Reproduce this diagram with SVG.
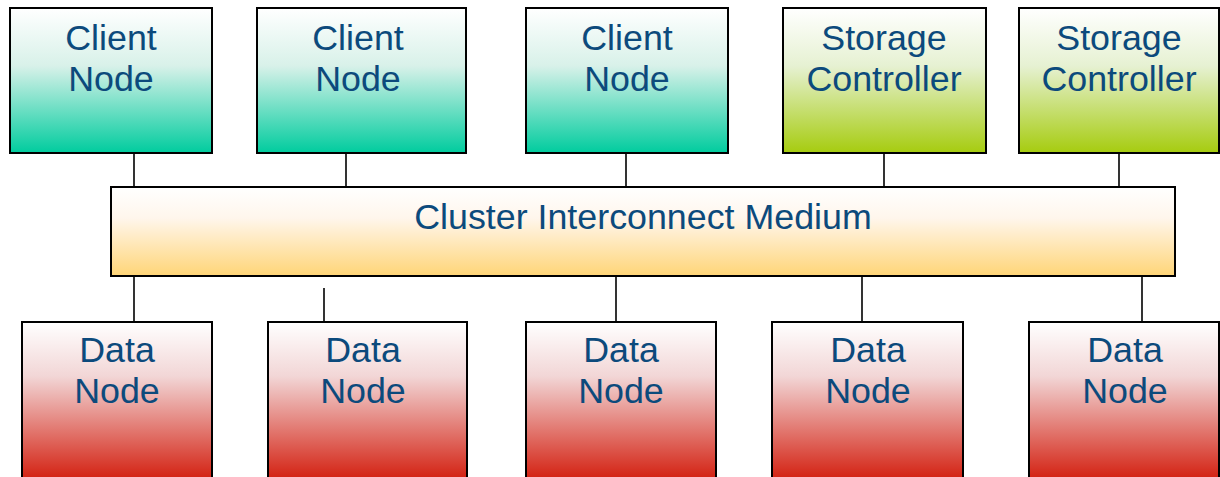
<svg xmlns="http://www.w3.org/2000/svg" width="1220" height="477" viewBox="0 0 1220 477">
<defs>
<linearGradient id="gClient" x1="0" y1="0" x2="0" y2="1">
<stop offset="0" stop-color="#ffffff"/>
<stop offset="0.4" stop-color="#d8f1e9"/>
<stop offset="1" stop-color="#00cc9e"/>
</linearGradient>
<linearGradient id="gStorage" x1="0" y1="0" x2="0" y2="1">
<stop offset="0" stop-color="#ffffff"/>
<stop offset="0.4" stop-color="#e6f1d2"/>
<stop offset="1" stop-color="#a6cc0f"/>
</linearGradient>
<linearGradient id="gBar" x1="0" y1="0" x2="0" y2="1">
<stop offset="0" stop-color="#ffffff"/>
<stop offset="0.35" stop-color="#fff6ec"/>
<stop offset="1" stop-color="#ffd577"/>
</linearGradient>
<linearGradient id="gData" gradientUnits="userSpaceOnUse" x1="0" y1="322" x2="0" y2="477">
<stop offset="0" stop-color="#ffffff"/>
<stop offset="0.35" stop-color="#f2d6d6"/>
<stop offset="1" stop-color="#d42516"/>
</linearGradient>
</defs>
<style>
.box{stroke:#000;stroke-width:2}
.client{fill:url(#gClient)}
.storage{fill:url(#gStorage)}
.bar{fill:url(#gBar)}
.data{fill:url(#gData)}
.lbl{font-family:"Liberation Sans",Arial,sans-serif;font-size:35.8px;fill:#0c4a7c;text-anchor:middle}
.conn{stroke:#000;stroke-width:1.6;fill:none}
</style>
<rect width="1220" height="477" fill="#ffffff"/>
<g id="connectors">
<line class="conn" x1="134" y1="154" x2="134" y2="187"/>
<line class="conn" x1="346" y1="154" x2="346" y2="187"/>
<line class="conn" x1="626" y1="154" x2="626" y2="187"/>
<line class="conn" x1="884" y1="154" x2="884" y2="187"/>
<line class="conn" x1="1119" y1="154" x2="1119" y2="187"/>
<line class="conn" x1="134" y1="277" x2="134" y2="322"/>
<line class="conn" x1="324" y1="288" x2="324" y2="322"/>
<line class="conn" x1="616" y1="277" x2="616" y2="322"/>
<line class="conn" x1="862" y1="277" x2="862" y2="322"/>
<line class="conn" x1="1142" y1="277" x2="1142" y2="322"/>
</g>
<g id="client1"><rect class="box client" x="10" y="8" width="202" height="145"/><text class="lbl" x="111" y="50">Client</text><text class="lbl" x="111" y="91">Node</text></g>
<g id="client2"><rect class="box client" x="257" y="8" width="209" height="145"/><text class="lbl" x="358" y="50">Client</text><text class="lbl" x="358" y="91">Node</text></g>
<g id="client3"><rect class="box client" x="526" y="8" width="202" height="145"/><text class="lbl" x="627" y="50">Client</text><text class="lbl" x="627" y="91">Node</text></g>
<g id="storage1"><rect class="box storage" x="783" y="8" width="203" height="145"/><text class="lbl" x="884" y="50">Storage</text><text class="lbl" x="884" y="91">Controller</text></g>
<g id="storage2"><rect class="box storage" x="1019" y="8" width="200" height="145"/><text class="lbl" x="1119" y="50">Storage</text><text class="lbl" x="1119" y="91">Controller</text></g>
<g id="interconnect"><rect class="box bar" x="111" y="187" width="1064" height="89"/><text class="lbl" x="643" y="229">Cluster Interconnect Medium</text></g>
<g id="data1"><rect class="box data" x="22" y="322" width="190" height="170"/><text class="lbl" x="117" y="362">Data</text><text class="lbl" x="117" y="403">Node</text></g>
<g id="data2"><rect class="box data" x="268" y="322" width="199" height="170"/><text class="lbl" x="363" y="362">Data</text><text class="lbl" x="363" y="403">Node</text></g>
<g id="data3"><rect class="box data" x="526" y="322" width="190" height="170"/><text class="lbl" x="621" y="362">Data</text><text class="lbl" x="621" y="403">Node</text></g>
<g id="data4"><rect class="box data" x="772" y="322" width="191" height="170"/><text class="lbl" x="868" y="362">Data</text><text class="lbl" x="868" y="403">Node</text></g>
<g id="data5"><rect class="box data" x="1029" y="322" width="190" height="170"/><text class="lbl" x="1125" y="362">Data</text><text class="lbl" x="1125" y="403">Node</text></g>
</svg>
